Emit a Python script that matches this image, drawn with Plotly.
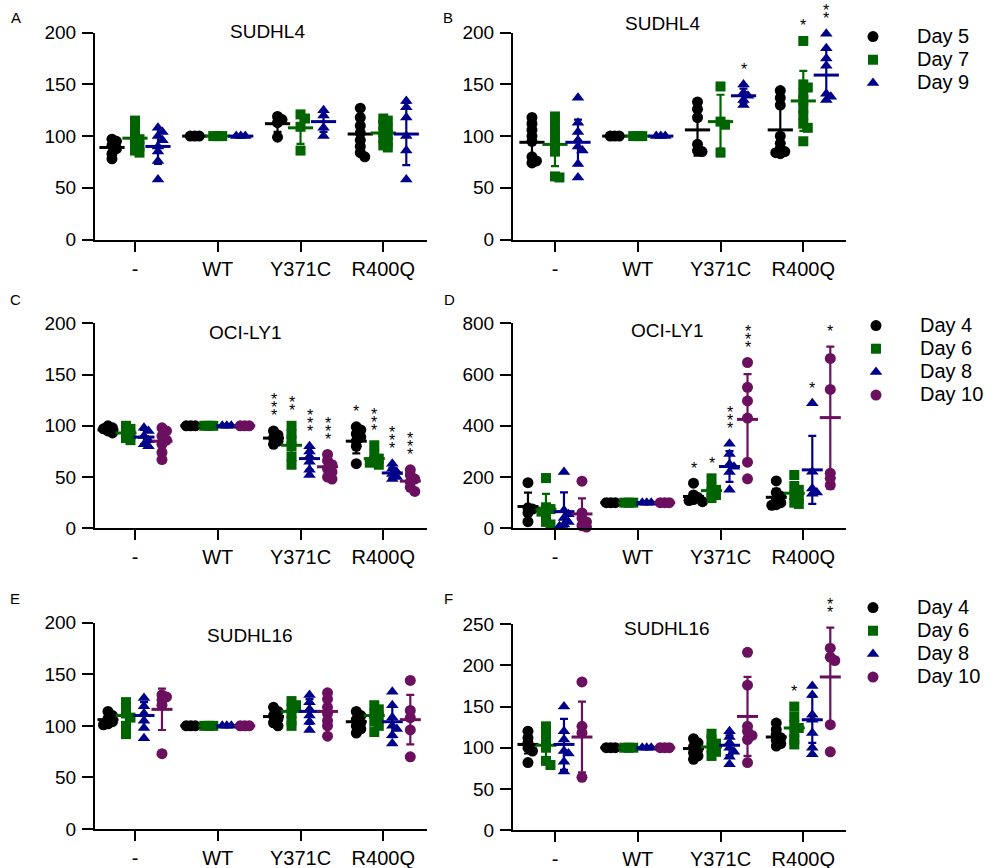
import numpy as np
import plotly.graph_objects as go

W, H = 994, 868

categories = ["-", "WT", "Y371C", "R400Q"]
days_top = ["Day 5", "Day 7", "Day 9"]
days_four = ["Day 4", "Day 6", "Day 8", "Day 10"]

# ---------------- Panel A : SUDHL4 ----------------
A_pts_d5 = [[97, 95, 91, 88, 83, 78], [100, 100, 100], [119, 116, 113, 99], [127, 118, 110, 103, 96, 90, 84, 80]]
A_pts_d7 = [[115, 110, 105, 100, 97, 94, 90, 86, 84], [100, 100, 100], [121, 117, 109, 86], [117, 115, 111, 107, 104, 101, 98, 94, 91, 89]]
A_pts_d9 = [[108, 104, 100, 96, 90, 85, 76, 58], [100, 100, 100], [125, 120, 108, 100], [134, 128, 118, 100, 86, 58]]
A_mean = [[89, 100, 112, 102], [98, 100, 108, 103], [90, 100, 114, 102]]
A_sd = [[7, 0, 8, 15], [11, 0, 15.5, 9], [17, 0, 10, 30]]
A_stars = []

# ---------------- Panel B : SUDHL4 ----------------
B_pts_d5 = [[118, 112, 106, 100, 95, 80, 76, 74], [100, 100, 100], [133, 126, 118, 92, 86, 85], [144, 137, 130, 100, 93, 88, 85, 84, 83]]
B_pts_d7 = [[119, 110, 104, 97, 92, 85, 61, 60], [100, 100, 100], [148, 114, 111, 84], [192, 150, 147, 141, 135, 127, 120, 112, 108, 95]]
B_pts_d9 = [[137, 113, 104, 96, 90, 86, 73, 60], [100, 100, 100], [150, 142, 139, 135, 130], [199, 185, 175, 168, 141, 138, 135]]
B_mean = [[94, 100, 106, 106], [92, 100, 114, 134], [94, 100, 139, 159]]
B_sd = [[15, 0, 25, 25], [21, 0, 26, 29], [22, 0, 7, 25]]
B_stars = [(2, 2, "*"), (1, 3, "*"), (2, 3, "**")]

# ---------------- Panel C : OCI-LY1 ----------------
C_pts_d4 = [[100, 98, 97, 95, 93], [100, 100, 100], [95, 91, 88, 85, 82], [99, 96, 92, 89, 85, 80, 63]]
C_pts_d6 = [[100, 97, 94, 91, 88, 86], [100, 100, 100], [100, 92, 86, 80, 70, 62], [81, 72, 68, 66, 64, 62]]
C_pts_d8 = [[98, 95, 90, 86, 82, 80], [100, 100, 100], [80, 75, 70, 65, 57, 52], [63, 58, 55, 53, 50, 48]]
C_pts_d10 = [[98, 95, 90, 86, 82, 74, 67], [100, 100, 100], [72, 66, 62, 58, 55, 50, 48], [57, 52, 48, 45, 40, 36]]
C_mean = [[96, 100, 88, 85], [93, 100, 81, 68], [89, 100, 68, 54], [85, 100, 60, 46]]
C_sd = [[3, 0, 5, 12], [5, 0, 13, 7], [7, 0, 11, 5], [10, 0, 8, 7]]
C_stars = [(0, 2, "***"), (1, 2, "**"), (2, 2, "***"), (3, 2, "***"),
           (0, 3, "*"), (1, 3, "***"), (2, 3, "***"), (3, 3, "***")]

# ---------------- Panel D : OCI-LY1 ----------------
D_pts_d4 = [[178, 80, 75, 60, 26], [100, 100, 100], [176, 130, 120, 112, 108, 104], [185, 140, 125, 110, 100, 92, 90]]
D_pts_d6 = [[196, 82, 75, 65, 50, 25, 15], [100, 100, 100], [195, 160, 150, 140, 130, 118], [208, 165, 150, 130, 115, 100, 95]]
D_pts_d8 = [[220, 70, 55, 40, 25, 15, 8], [100, 100, 100], [330, 290, 250, 240, 220, 150], [488, 221, 155, 140, 135]]
D_pts_d10 = [[184, 60, 40, 25, 10, 5], [100, 100, 100], [647, 550, 497, 430, 258, 193], [663, 542, 215, 195, 169]]
D_mean = [[85, 100, 124, 121], [74, 100, 147, 137], [65, 100, 241, 228], [56, 100, 425, 432]]
D_sd = [[54, 0, 15, 33], [60, 0, 25, 35], [75, 0, 60, 133], [61, 0, 177, 277]]
D_stars = [(0, 2, "*"), (1, 2, "*"), (2, 2, "***"), (3, 2, "***"), (2, 3, "*"), (3, 3, "*")]

# ---------------- Panel E : SUDHL16 ----------------
E_pts_d4 = [[114, 110, 107, 104, 102, 101], [100, 100, 100], [118, 114, 110, 107, 103, 100], [114, 110, 106, 103, 100, 97, 93]]
E_pts_d6 = [[123, 117, 112, 108, 100, 92], [100, 100, 100], [124, 120, 117, 112, 105, 100], [120, 116, 112, 109, 104, 100, 94]]
E_pts_d8 = [[127, 119, 112, 105, 98, 88], [100, 100, 100], [130, 123, 116, 110, 104, 96], [133, 120, 108, 100, 97, 91, 83]]
E_pts_d10 = [[130, 128, 125, 120, 73], [100, 100, 100], [132, 126, 118, 112, 105, 100, 90], [144, 115, 108, 96, 70]]
E_mean = [[106, 100, 109, 104], [110, 100, 114, 110], [110, 100, 114, 104], [116, 100, 114, 106]]
E_sd = [[5, 0, 6, 7], [12, 0, 9, 9], [13, 0, 12, 15], [20, 0, 15, 24]]
E_stars = []

# ---------------- Panel F : SUDHL16 ----------------
F_pts_d4 = [[120, 112, 106, 100, 96, 82], [100, 100, 100], [111, 106, 101, 98, 94, 90, 86], [130, 122, 116, 112, 109, 105, 102]]
F_pts_d6 = [[126, 120, 110, 100, 84, 79], [100, 100, 100], [117, 110, 105, 100, 95, 90], [150, 138, 128, 124, 118, 110, 104]]
F_pts_d8 = [[150, 120, 110, 96, 93, 83, 71], [100, 100, 100], [120, 113, 106, 100, 95, 89, 80], [175, 164, 140, 134, 118, 100, 92]]
F_pts_d10 = [[180, 126, 118, 64], [100, 100, 100], [216, 176, 126, 120, 115, 110, 82], [221, 210, 206, 128, 95]]
F_mean = [[104, 100, 99, 113], [103, 100, 101, 124], [104, 100, 103, 134], [113, 100, 138, 186]]
F_sd = [[11, 0, 8, 8], [20, 0, 9, 15], [31, 0, 12, 28], [43, 0, 48, 60]]
F_stars = [(1, 3, "*"), (3, 3, "**")]

# ---------------- styling ----------------
FONT = "Liberation Sans, Arial, sans-serif"
COL_BLACK, COL_GREEN, COL_BLUE, COL_PURPLE = "#000000", "#006400", "#00008B", "#6B0F5F"
style3 = [(COL_BLACK, "circle", 11), (COL_GREEN, "square", 10), (COL_BLUE, "triangle-up", 11)]
style4 = [(COL_BLACK, "circle", 11), (COL_GREEN, "square", 10), (COL_BLUE, "triangle-up", 11), (COL_PURPLE, "circle", 11)]
off3 = [-23, 0, 23]
off4 = [-27, -9, 9, 27]

XL = (95, 427)
XR = (513, 846)
XRANGE_L = [-0.483, 3.528]
XRANGE_R = [-0.507, 3.516]

panels = [
    dict(letter="A", title="SUDHL4", xpx=XL, xr=XRANGE_L, ypx=(32.7, 239.5), ymax=200, dtick=50,
         days=days_top, pts=[A_pts_d5, A_pts_d7, A_pts_d9], mean=A_mean, sd=A_sd, stars=A_stars,
         legend=None, title_xy=(267, 32), letter_xy=(16, 17)),
    dict(letter="B", title="SUDHL4", xpx=XR, xr=XRANGE_R, ypx=(32.7, 239.5), ymax=200, dtick=50,
         days=days_top, pts=[B_pts_d5, B_pts_d7, B_pts_d9], mean=B_mean, sd=B_sd, stars=B_stars,
         legend="legend", title_xy=(662, 23), letter_xy=(448, 17)),
    dict(letter="C", title="OCI-LY1", xpx=XL, xr=XRANGE_L, ypx=(323.3, 528.3), ymax=200, dtick=50,
         days=days_four, pts=[C_pts_d4, C_pts_d6, C_pts_d8, C_pts_d10], mean=C_mean, sd=C_sd, stars=C_stars,
         legend=None, title_xy=(245, 332), letter_xy=(15, 300)),
    dict(letter="D", title="OCI-LY1", xpx=XR, xr=XRANGE_R, ypx=(323.3, 528.3), ymax=800, dtick=200,
         days=days_four, pts=[D_pts_d4, D_pts_d6, D_pts_d8, D_pts_d10], mean=D_mean, sd=D_sd, stars=D_stars,
         legend="legend2", title_xy=(667, 330), letter_xy=(449, 300)),
    dict(letter="E", title="SUDHL16", xpx=XL, xr=XRANGE_L, ypx=(622.7, 829), ymax=200, dtick=50,
         days=days_four, pts=[E_pts_d4, E_pts_d6, E_pts_d8, E_pts_d10], mean=E_mean, sd=E_sd, stars=E_stars,
         legend=None, title_xy=(250, 635), letter_xy=(15, 598)),
    dict(letter="F", title="SUDHL16", xpx=XR, xr=XRANGE_R, ypx=(624.3, 830), ymax=250, dtick=50,
         days=days_four, pts=[F_pts_d4, F_pts_d6, F_pts_d8, F_pts_d10], mean=F_mean, sd=F_sd, stars=F_stars,
         legend="legend3", title_xy=(667, 628), letter_xy=(448, 598)),
]


def swarm_offsets(vals, ppu, step=4.5, minsep=4.5):
    order = sorted(range(len(vals)), key=lambda i: -vals[i])
    cands = [0.0]
    for j in range(1, 40):
        cands += [j * step, -j * step]
    placed = []
    offs = [0.0] * len(vals)
    for i in order:
        y = vals[i] * ppu
        chosen = cands[-1]
        for c in cands:
            if all((c - px) ** 2 + (y - py) ** 2 >= minsep ** 2 - 1e-9 for px, py in placed):
                chosen = c
                break
        offs[i] = chosen
        placed.append((chosen, y))
    return offs


fig = go.Figure()
annotations = []
layout_axes = {}

for k, p in enumerate(panels):
    ax = "" if k == 0 else str(k + 1)
    xa, ya = "x" + ax, "y" + ax
    x0, x1 = p["xpx"]
    ytop, ybot = p["ypx"]
    xppu = (x1 - x0) / (p["xr"][1] - p["xr"][0])
    yppu = (ybot - ytop) / p["ymax"]
    nser = len(p["days"])
    styles = style3 if nser == 3 else style4
    offs = off3 if nser == 3 else off4
    mlen = 18 if nser == 3 else 15

    layout_axes["xaxis" + ax] = dict(
        domain=[x0 / W, x1 / W], range=p["xr"], anchor=ya,
        tickmode="array", tickvals=[0, 1, 2, 3], ticktext=categories,
        showline=True, linecolor="black", linewidth=2, ticks="outside", ticklen=10, tickwidth=2,
        tickcolor="black", showgrid=False, zeroline=False, fixedrange=True,
        tickfont=dict(family=FONT, size=20, color="black"), ticklabelstandoff=0)
    layout_axes["yaxis" + ax] = dict(
        domain=[1 - ybot / H, 1 - ytop / H], range=[0, p["ymax"]], anchor=xa,
        tickmode="linear", tick0=0, dtick=p["dtick"],
        showline=True, linecolor="black", linewidth=2, ticks="outside", ticklen=11, tickwidth=2,
        tickcolor="black", showgrid=False, zeroline=False, fixedrange=True,
        tickfont=dict(family=FONT, size=19, color="black"), ticklabelstandoff=2)

    # points
    for s in range(nser):
        col, sym, msz = styles[s]
        xs, ys = [], []
        for c in range(4):
            vals = p["pts"][s][c]
            dx = swarm_offsets(vals, yppu)
            for v, d in zip(vals, dx):
                xs.append(c + (offs[s] + d) / xppu)
                ys.append(v)
        showleg = p["legend"] is not None
        tr = dict(x=xs, y=ys, xaxis=xa, yaxis=ya, mode="markers",
                  marker=dict(color=col, symbol=sym, size=msz, line=dict(width=0)),
                  name='<span style="font-size:20px">' + p["days"][s] + "</span>",
                  showlegend=showleg, cliponaxis=False, hoverinfo="skip")
        if showleg:
            tr["legend"] = p["legend"]
        fig.add_trace(go.Scatter(**tr))

    # mean +/- SD
    for s in range(nser):
        col = styles[s][0]
        means = p["mean"][s]
        sds = p["sd"][s]
        fig.add_trace(go.Scatter(
            x=[c + offs[s] / xppu for c in range(4)], y=means, xaxis=xa, yaxis=ya,
            mode="markers", showlegend=False, cliponaxis=False, hoverinfo="skip",
            marker=dict(symbol="line-ew", size=mlen, color=col, line=dict(color=col, width=3)),
            error_y=dict(type="data", symmetric=False, array=sds,
                         arrayminus=[min(sd, m) for sd, m in zip(sds, means)],
                         color=col, thickness=2.2, width=4)))

    # significance stars
    for (s, c, txt) in p["stars"]:
        top = max(max(p["pts"][s][c]), p["mean"][s][c] + p["sd"][s][c])
        for j in range(len(txt)):
            annotations.append(dict(
                x=c + offs[s] / xppu, y=top, xref=xa, yref=ya, text="*", showarrow=False,
                xanchor="center", yanchor="middle", yshift=15 + 8 * j,
                font=dict(family=FONT, size=16, color="black")))

    # title and letter
    tx, ty = p["title_xy"]
    annotations.append(dict(x=tx / W, y=1 - ty / H, xref="paper", yref="paper", text=p["title"],
                            showarrow=False, xanchor="center", yanchor="middle",
                            font=dict(family=FONT, size=19, color="black")))
    lx, ly = p["letter_xy"]
    annotations.append(dict(x=lx / W, y=1 - ly / H, xref="paper", yref="paper", text=p["letter"],
                            showarrow=False, xanchor="center", yanchor="middle",
                            font=dict(family=FONT, size=15, color="black")))

leg_common = dict(xanchor="left", yanchor="top", bgcolor="rgba(0,0,0,0)", borderwidth=0,
                  itemwidth=78, tracegroupgap=0, font=dict(family=FONT, size=15.5, color="black"),
                  traceorder="normal", itemclick=False, itemdoubleclick=False)

fig.update_layout(
    width=W, height=H,
    margin=dict(l=0, r=0, t=0, b=0, autoexpand=False),
    paper_bgcolor="white", plot_bgcolor="white",
    annotations=annotations,
    legend=dict(x=829 / W, y=1 - 20 / H, **leg_common),
    legend2=dict(x=832 / W, y=1 - 309 / H, **leg_common),
    legend3=dict(x=829 / W, y=1 - 591 / H, **leg_common),
    **layout_axes,
)

fig.write_html("out.html", config={"displayModeBar": False, "staticPlot": True},
               post_script="document.body.style.margin='0px';document.body.style.overflow='hidden';")
